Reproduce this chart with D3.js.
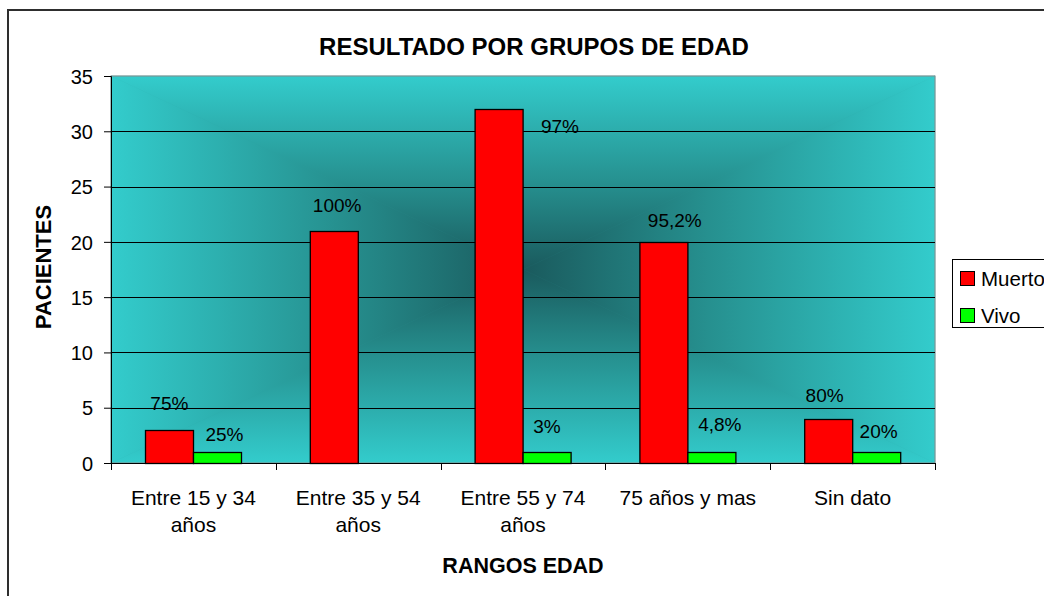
<!DOCTYPE html>
<html>
<head>
<meta charset="utf-8">
<script src="https://d3js.org/d3.v7.min.js"></script>
<style>
  html, body { margin: 0; padding: 0; background: #fff; overflow: hidden; }
  #chart { width: 1044px; height: 596px; }
  text { font-family: "Liberation Sans", Arial, sans-serif; fill: #000; }
</style>
</head>
<body>
<div id="chart"></div>
<script>
// data
var categories = ["Entre 15 y 34 años", "Entre 35 y 54 años", "Entre 55 y 74 años", "75 años y mas", "Sin dato"];
var seriesNames = ["Muerto", "Vivo"];
var muerto = [3, 21, 32, 20, 4];
var vivo = [1, 0, 1, 1, 1];
var muertoLabels = ["75%", "100%", "97%", "95,2%", "80%"];
var vivoLabels = ["25%", "", "3%", "4,8%", "20%"];
var yTicks = [0, 5, 10, 15, 20, 25, 30, 35];

// label nudges (the labels were moved by hand in the original)
var muertoNudge = [[0, -20], [3, -19], [61, 24], [11, -15], [-4, -17]];
var vivoNudge = [[7, -11], [0, 0], [0, -19], [8, -21], [2, -14]];

var colors = { Muerto: "#ff0000", Vivo: "#00ff00" };

var width = 1044, height = 596;
var plot = { left: 111, right: 935, top: 76, bottom: 463 };

var svg = d3.select("#chart").append("svg")
    .attr("width", width)
    .attr("height", height);

// outer chart border (runs off the right and bottom edges)
svg.append("rect")
    .attr("x", 8).attr("y", 10)
    .attr("width", 1100).attr("height", 700)
    .attr("fill", "#fff")
    .attr("stroke", "#2e2e2e")
    .attr("stroke-width", 2);

var x0 = d3.scaleBand()
    .domain(categories)
    .range([plot.left, plot.right])
    .paddingInner(0).paddingOuter(0);

var groupW = x0.bandwidth() * 0.583;
var x1 = d3.scaleBand()
    .domain(seriesNames)
    .range([(x0.bandwidth() - groupW) / 2, (x0.bandwidth() + groupW) / 2]);

var y = d3.scaleLinear()
    .domain([0, 35])
    .range([plot.bottom, plot.top]);

// background: rectangular "from center" gradient, made of four triangles
var defs = svg.append("defs");
var cx = (plot.left + plot.right) / 2, cy = (plot.top + plot.bottom) / 2;
var dark = "#1a5a5d", light = "#33cccc";
var sides = [
    { id: "gTop", pts: [[plot.left, plot.top], [plot.right, plot.top], [cx, cy]], to: [cx, plot.top] },
    { id: "gBot", pts: [[plot.left, plot.bottom], [plot.right, plot.bottom], [cx, cy]], to: [cx, plot.bottom] },
    { id: "gLeft", pts: [[plot.left, plot.top], [plot.left, plot.bottom], [cx, cy]], to: [plot.left, cy] },
    { id: "gRight", pts: [[plot.right, plot.top], [plot.right, plot.bottom], [cx, cy]], to: [plot.right, cy] }
];
sides.forEach(function (s) {
    var g = defs.append("linearGradient")
        .attr("id", s.id)
        .attr("gradientUnits", "userSpaceOnUse")
        .attr("x1", cx).attr("y1", cy)
        .attr("x2", s.to[0]).attr("y2", s.to[1]);
    g.append("stop").attr("offset", 0).attr("stop-color", dark);
    g.append("stop").attr("offset", 0.45).attr("stop-color", "#26908f");
    g.append("stop").attr("offset", 1).attr("stop-color", light);
});

svg.append("rect")
    .attr("x", plot.left).attr("y", plot.top)
    .attr("width", plot.right - plot.left).attr("height", plot.bottom - plot.top)
    .attr("fill", "#2a9fa1");

svg.append("g").selectAll("polygon")
    .data(sides)
    .enter().append("polygon")
    .attr("points", function (d) { return d.pts.map(function (p) { return p.join(","); }).join(" "); })
    .attr("fill", function (d) { return "url(#" + d.id + ")"; })
    .attr("stroke", function (d) { return "url(#" + d.id + ")"; })
    .attr("stroke-width", 0.6);

// plot area frame
svg.append("rect")
    .attr("x", plot.left).attr("y", plot.top)
    .attr("width", plot.right - plot.left).attr("height", plot.bottom - plot.top)
    .attr("fill", "none")
    .attr("stroke", "#8a8a8a")
    .attr("stroke-width", 1);

// gridlines
svg.append("g").selectAll("line")
    .data(yTicks.filter(function (d) { return d > 0 && d < 35; }))
    .enter().append("line")
    .attr("x1", plot.left).attr("x2", plot.right)
    .attr("y1", function (d) { return Math.round(y(d)) + 0.5; })
    .attr("y2", function (d) { return Math.round(y(d)) + 0.5; })
    .attr("stroke", "#000")
    .attr("stroke-width", 1);

// y axis
var yAxis = svg.append("g")
    .attr("transform", "translate(" + plot.left + ",0)")
    .call(d3.axisLeft(y).tickValues(yTicks).tickSize(7).tickPadding(11));
yAxis.select(".domain").attr("stroke", "#000");
yAxis.selectAll(".tick line").attr("stroke", "#000");
yAxis.selectAll("text")
    .style("font-size", "20px")
    .attr("dy", "0.36em");

// x axis: ticks sit on the category boundaries
var bounds = categories.map(function (c) { return x0(c); }).concat([plot.right]);
var xAxis = svg.append("g");
xAxis.append("line")
    .attr("x1", plot.left).attr("x2", plot.right)
    .attr("y1", plot.bottom + 0.5).attr("y2", plot.bottom + 0.5)
    .attr("stroke", "#000");
xAxis.selectAll(".tk")
    .data(bounds)
    .enter().append("line")
    .attr("class", "tk")
    .attr("x1", function (d) { return Math.round(d) + 0.5; })
    .attr("x2", function (d) { return Math.round(d) + 0.5; })
    .attr("y1", plot.bottom).attr("y2", plot.bottom + 7)
    .attr("stroke", "#000");

var catLabels = xAxis.selectAll(".cat")
    .data(categories)
    .enter().append("text")
    .attr("class", "cat")
    .attr("text-anchor", "middle")
    .style("font-size", "21px")
    .attr("x", function (d) { return x0(d) + x0.bandwidth() / 2; })
    .attr("y", 505);

// wrap category labels to the band width
catLabels.each(function (d) {
    var t = d3.select(this), words = d.split(" "), line = [], lines = [];
    words.forEach(function (w) {
        line.push(w);
        t.text(line.join(" "));
        if (t.node().getComputedTextLength() > x0.bandwidth() - 12 && line.length > 1) {
            line.pop();
            lines.push(line.join(" "));
            line = [w];
        }
    });
    lines.push(line.join(" "));
    t.text(null);
    lines.forEach(function (l, i) {
        t.append("tspan")
            .attr("x", x0(d) + x0.bandwidth() / 2)
            .attr("dy", i === 0 ? 0 : 27)
            .text(l);
    });
});

// bars
var rows = categories.map(function (c, i) {
    return { cat: c, i: i, values: [
        { key: "Muerto", value: muerto[i], label: muertoLabels[i], nudge: muertoNudge[i] },
        { key: "Vivo", value: vivo[i], label: vivoLabels[i], nudge: vivoNudge[i] }
    ] };
});

var groups = svg.append("g").selectAll("g")
    .data(rows)
    .enter().append("g")
    .attr("transform", function (d) { return "translate(" + x0(d.cat) + ",0)"; });

groups.selectAll("rect")
    .data(function (d) { return d.values.filter(function (v) { return v.value > 0; }); })
    .enter().append("rect")
    .attr("x", function (d) { return Math.round(x1(d.key)) + 0.5; })
    .attr("y", function (d) { return Math.round(y(d.value)) + 0.5; })
    .attr("width", Math.round(x1.bandwidth()))
    .attr("height", function (d) { return Math.round(y(0)) - Math.round(y(d.value)); })
    .attr("fill", function (d) { return colors[d.key]; })
    .attr("stroke", "#000")
    .attr("stroke-width", 1.3);

groups.selectAll(".lbl")
    .data(function (d) { return d.values.filter(function (v) { return v.label; }); })
    .enter().append("text")
    .attr("class", "lbl")
    .attr("text-anchor", "middle")
    .style("font-size", "19px")
    .attr("x", function (d) { return x1(d.key) + x1.bandwidth() / 2 + d.nudge[0]; })
    .attr("y", function (d) { return y(d.value) + d.nudge[1]; })
    .text(function (d) { return d.label; });

// title and axis titles
svg.append("text")
    .attr("x", 534).attr("y", 55)
    .attr("text-anchor", "middle")
    .style("font-size", "24px")
    .style("font-weight", "bold")
    .text("RESULTADO POR GRUPOS DE EDAD");

svg.append("text")
    .attr("transform", "translate(51,267) rotate(-90)")
    .attr("text-anchor", "middle")
    .style("font-size", "22px")
    .style("font-weight", "bold")
    .text("PACIENTES");

svg.append("text")
    .attr("x", 523).attr("y", 573)
    .attr("text-anchor", "middle")
    .style("font-size", "21.5px")
    .style("font-weight", "bold")
    .text("RANGOS EDAD");

// legend (cut by the right edge like the original)
var legend = svg.append("g").attr("transform", "translate(952,259)");
legend.append("rect")
    .attr("x", 0.5).attr("y", 0.5)
    .attr("width", 200).attr("height", 68)
    .attr("fill", "#fff")
    .attr("stroke", "#000");
var li = legend.selectAll(".li")
    .data(seriesNames)
    .enter().append("g")
    .attr("class", "li")
    .attr("transform", function (d, i) { return "translate(8," + (12 + i * 37) + ")"; });
li.append("rect")
    .attr("x", 0.5).attr("y", 0.5)
    .attr("width", 14).attr("height", 14)
    .attr("fill", function (d) { return colors[d]; })
    .attr("stroke", "#000");
li.append("text")
    .attr("x", 21).attr("y", 15)
    .style("font-size", "20.5px")
    .text(function (d) { return d; });
</script>
</body>
</html>
